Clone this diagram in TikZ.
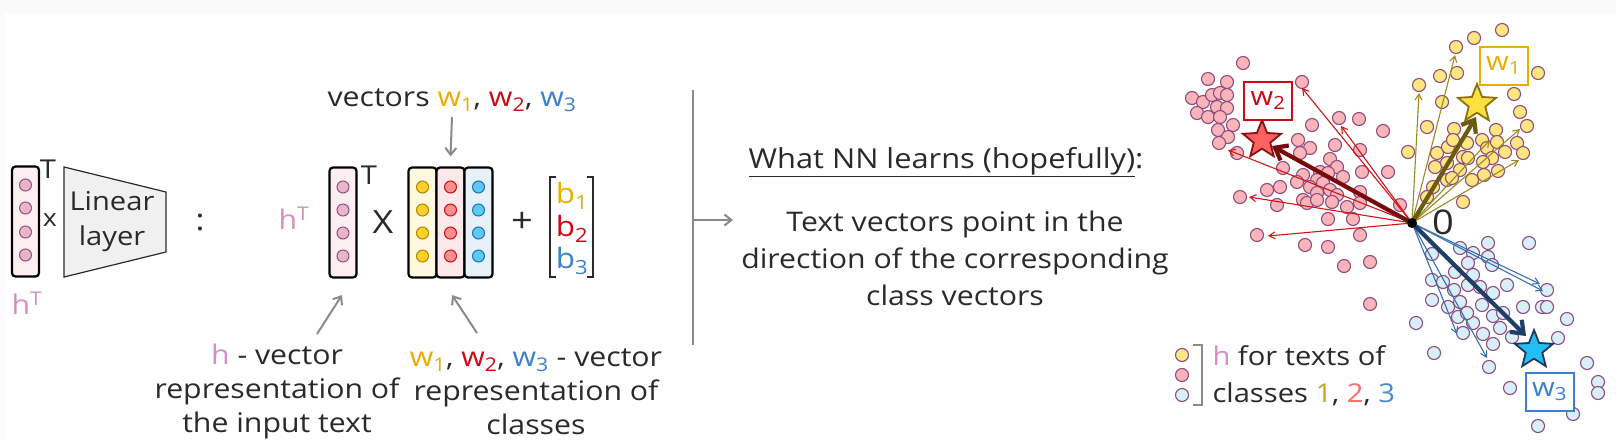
\documentclass[tikz,border=0pt]{standalone}
\usepackage{fontspec}
\setmainfont{Open Sans}[FakeStretch=1.12]
\usetikzlibrary{arrows.meta,shapes.geometric}
\definecolor{txt}{HTML}{2A2A2A}
\definecolor{hpink}{HTML}{D68FC4}
\definecolor{wy}{HTML}{E8AE00}
\definecolor{wr}{HTML}{CC0A14}
\definecolor{wb}{HTML}{3A80D0}
\definecolor{dotb}{HTML}{8E4B7E}
\definecolor{pinkf}{HTML}{FAB4BA}
\definecolor{yelf}{HTML}{FFE680}
\definecolor{bluef}{HTML}{D8EEF8}
\definecolor{hf}{HTML}{E9B6C9}
\definecolor{hb}{HTML}{9A4E80}
\definecolor{boxp}{HTML}{FCEFF2}
\definecolor{boxy}{HTML}{FEF8DF}
\definecolor{boxr}{HTML}{FDE8EA}
\definecolor{boxb}{HTML}{E6F1F8}
\definecolor{cyf}{HTML}{FFD02A}\definecolor{cyb}{HTML}{B08800}
\definecolor{crf}{HTML}{F89090}\definecolor{crb}{HTML}{D01010}
\definecolor{cbf}{HTML}{5BC8F5}\definecolor{cbb}{HTML}{2070B0}
\definecolor{arr}{HTML}{8A8A8A}
\definecolor{ared}{HTML}{D41414}
\definecolor{ayel}{HTML}{9A8A20}
\definecolor{ablu}{HTML}{3A70B0}
\definecolor{legy}{HTML}{C9A227}
\definecolor{legr}{HTML}{FF6B6B}
\definecolor{legb}{HTML}{4A8AD0}
\definecolor{s2f}{HTML}{FF6060}\definecolor{s2b}{HTML}{8B1010}
\definecolor{s1f}{HTML}{FFE040}\definecolor{s1b}{HTML}{8B7010}
\definecolor{s3f}{HTML}{22BFF5}\definecolor{s3b}{HTML}{1B3A60}
\definecolor{t2}{HTML}{7A0A0A}
\definecolor{t1}{HTML}{6B5A10}
\definecolor{t3}{HTML}{1F3F66}
\tikzset{
  vecbox/.style={draw=black, line width=2.2pt, rounded corners=3.5pt, minimum width=27pt, minimum height=110pt, inner sep=0pt},
  cdot/.style={circle, inner sep=0pt, minimum size=12pt, line width=1pt},
  sdot/.style={circle, inner sep=0pt, minimum size=13pt, line width=1.1pt, draw=dotb},
  garrow/.style={draw=arr, line width=2pt, -{Straight Barb[length=7pt,width=11pt]}},
  thin/.style={line width=1.1pt, -{Straight Barb[length=6pt,width=7pt]}},
  thick/.style={line width=4.2pt, -{Straight Barb[length=11pt,width=17pt]}},
  lbl/.style={font=\fontsize{27}{34}\selectfont, align=center, text=txt},
  wbox/.style={line width=2pt, fill=white, minimum width=48pt, minimum height=38pt, inner sep=0pt, font=\fontsize{26}{30}\selectfont},
  starn/.style={star, star points=5, star point ratio=2.3, minimum size=40pt, inner sep=0pt, line width=1.8pt},
}
\newcommand{\wsub}[2]{\textcolor{#1}{w\textsubscript{#2}}}
\begin{document}
\begin{tikzpicture}[x=1pt,y=-1pt]
\fill[black!2] (0,0) rectangle (1616,440);
\fill[white] (5,14) rectangle (1616,440);
\useasboundingbox (0,0) rectangle (1616,440);

% ---------- left: h^T x Linear layer ----------
\node[vecbox, fill=boxp] (hv1) at (25.5,221.5) {};
\foreach \y [count=\i] in {185,208,232,255}
  \node[cdot, fill=hf, draw=hb] (hv1c\i) at (25.5,\y) {};
\node[lbl, font=\fontsize{26}{30}\selectfont] (hv1T) at (48,169) {T};
\node[lbl, font=\fontsize{24}{30}\selectfont] (hv1x) at (50,220) {x};
\draw[fill=black!6, draw=txt, line width=1.2pt] (64,167) -- (166,192) -- (166,252) -- (64,277) -- cycle;
\node[lbl, font=\fontsize{26}{35}\selectfont] (lin) at (112,222) {Linear\\layer};
\node[lbl, font=\fontsize{30}{30}\selectfont] (colon) at (200,222) {:};
\node[lbl, text=hpink] (hv1lab) at (27,303) {h\textsuperscript{T}};

% ---------- middle: h^T X W + b ----------
\node[lbl, text=hpink] (hTlab) at (294,218) {h\textsuperscript{T}};
\node[vecbox, fill=boxp] (hv2) at (343,222.5) {};
\foreach \y [count=\i] in {187,210,233,256}
  \node[cdot, fill=hf, draw=hb] (hv2c\i) at (343,\y) {};
\node[lbl, font=\fontsize{26}{30}\selectfont] (hv2T) at (369,175) {T};
\node[lbl, font=\fontsize{32}{32}\selectfont] (times) at (383,222) {X};
\node[vecbox, fill=boxy, minimum width=28pt] (W1) at (422.5,222.5) {};
\node[vecbox, fill=boxr, minimum width=28pt] (W2) at (450.5,222.5) {};
\node[vecbox, fill=boxb, minimum width=28pt] (W3) at (478.5,222.5) {};
\foreach \y [count=\i] in {187,210,233,256}{
  \node[cdot, fill=cyf, draw=cyb] (W1c\i) at (422.5,\y) {};
  \node[cdot, fill=crf, draw=crb] (W2c\i) at (450.5,\y) {};
  \node[cdot, fill=cbf, draw=cbb] (W3c\i) at (478.5,\y) {};
}
\node[lbl, font=\fontsize{34}{34}\selectfont] (plus) at (522,222) {+};
\draw[line width=2pt, draw=txt] (556,177) -- (550,177) -- (550,277) -- (556,277);
\draw[line width=2pt, draw=txt] (587,177) -- (593,177) -- (593,277) -- (587,277);
\node[lbl, text=wy, font=\fontsize{28}{30}\selectfont] (b1) at (572,196) {b\textsubscript{1}};
\node[lbl, text=wr, font=\fontsize{28}{30}\selectfont] (b2) at (572,229) {b\textsubscript{2}};
\node[lbl, text=wb, font=\fontsize{28}{30}\selectfont] (b3) at (572,261) {b\textsubscript{3}};

\node[lbl] (vecs) at (452,100) {vectors \wsub{wy}{1}, \wsub{wr}{2}, \wsub{wb}{3}};
\draw[garrow] (452,117) -- ([yshift=10pt]W2.north);

\node[lbl] (hexp) at (277,391) {\textcolor{hpink}{h} - vector\\representation of\\the input text};
\node[lbl] (wexp) at (536,392) {\wsub{wy}{1}, \wsub{wr}{2}, \wsub{wb}{3} - vector\\representation of\\classes};
\coordinate (ha) at (317,334);
\coordinate (hb) at (342,295);
\draw[garrow] (ha) -- (hb);
\coordinate (wa) at (477,333);
\coordinate (wbb) at (452,295);
\draw[garrow] (wa) -- (wbb);

% ---------- divider and explanation ----------
\coordinate (dtop) at (693,90);
\coordinate (dbot) at (693,345);
\draw[draw=arr, line width=2pt] (dtop) -- (dbot);
\coordinate (dmid) at (693,220);
\coordinate (dend) at (733,220);
\draw[garrow] (dmid) -- (dend);
\node[lbl, font=\fontsize{27.5}{34}\selectfont] (title) at (946,162) {\underline{What NN learns (hopefully)}:};
\node[lbl, font=\fontsize{27}{37}\selectfont] (expl) at (955,258) {Text vectors point in the\\direction of the corresponding\\class vectors};

% ---------- scatter ----------
\coordinate (O) at (1412,223);
% pink (class 2)
\foreach \x/\y in {1243/63,1208/79,1227/82,1192/98,1203/102,1212/95,1220/93,1227/95,1217/107,1227/108,1197/113,1208/117,1220/117,1233/125,1218/130,1228/137,1219/143,1237/153,1302/82,1312/125,1339/118,1359/119,1383/131,1298/140,1310/148,1335/145,1360/150,1300/153,1330/159,1337/167,1283/168,1303/175,1320/172,1328/173,1343/177,1317/180,1323/183,1297/182,1310/187,1330/190,1362/172,1388/172,1267/190,1280/187,1317/193,1337/195,1360/192,1240/197,1277/205,1303/200,1307/203,1317/200,1332/202,1347/207,1360/203,1400/205,1328/219,1353/219,1257/235,1360/235,1305/245,1328/247,1344/266,1370/262,1370/304}
  \node[sdot, fill=pinkf] at (\x,\y) {};
% yellow (class 1)
\foreach \x/\y in {1502/30,1474/38,1456/47,1440/76,1457/73,1419/85,1442/102,1538/73,1514/94,1520/112,1527/126,1427/127,1454/129,1496/130,1408/152,1437/153,1448/147,1453/140,1467/143,1463/157,1468/158,1482/140,1487/148,1492/158,1497/142,1505/152,1517/143,1523/153,1435/167,1447/163,1460/170,1483/162,1498/171,1484/175,1472/180,1433/187,1447/180,1452/178,1427/197,1463/202}
  \node[sdot, fill=yelf] at (\x,\y) {};
% blue (class 3)
\foreach \x/\y in {1488/243,1529/243,1432/254,1460/248,1473/253,1488/257,1492/265,1468/263,1455/272,1473/275,1432/280,1443/282,1454/290,1468/285,1480/287,1493/293,1507/285,1547/290,1432/300,1448/307,1460/302,1482/305,1493/316,1503/313,1523/307,1542/307,1547/307,1416/323,1458/317,1473/323,1463/333,1483/334,1500/328,1512/337,1493/344,1567/319,1558/338,1434/353,1489/367,1587/363,1510/388,1598/382,1598/393,1573/414,1538/426,1467/313}
  \node[sdot, fill=bluef] at (\x,\y) {};

% thin arrows
\foreach \x/\y in {1302/88,1341/126,1228/150,1249/197,1268/236}
  \draw[thin, draw=ared] (O) -- (\x,\y);
\foreach \x/\y in {1419/93,1455/55,1520/129,1519/160,1490/140}
  \draw[thin, draw=ayel] (O) -- (\x,\y);
\foreach \x/\y in {1540/284,1543/291,1457/334,1487/358}
  \draw[thin, draw=ablu] (O) -- (\x,\y);

% stars, labels and thick arrows
\node[starn, fill=s2f, draw=s2b] (s2) at (1262,140) {};
\node[starn, fill=s1f, draw=s1b] (s1) at (1477,104) {};
\node[starn, fill=s3f, draw=s3b] (s3) at (1534,350) {};
\draw[thick, draw=t2] (O) -- (1272,146);
\draw[thick, draw=t1] (O) -- (1476,117);
\draw[thick, draw=t3] (O) -- (1526,336);
\fill[black] (O) circle[radius=5pt];
\node[lbl, font=\fontsize{34}{34}\selectfont] (zero) at (1443,222) {0};
\node[wbox, draw=wr, text=wr] (w2box) at (1268,100.5) {w\textsubscript{2}};
\node[wbox, draw=wy, text=wy] (w1box) at (1503.5,65.5) {w\textsubscript{1}};
\node[wbox, draw=wb, text=wb] (w3box) at (1549.5,391.5) {w\textsubscript{3}};

% legend
\node[sdot, fill=yelf] (l1) at (1182,355) {};
\node[sdot, fill=pinkf] (l2) at (1182,375) {};
\node[sdot, fill=bluef] (l3) at (1182,395) {};
\draw[draw=arr, line width=2pt] (1193,345) -- (1202,345) -- (1202,405) -- (1193,405);
\node[lbl, anchor=west, align=left, font=\fontsize{26}{37}\selectfont] (legt) at (1209,376) {\textcolor{hpink}{h} for texts of\\classes \textcolor{legy}{1}, \textcolor{legr}{2}, \textcolor{legb}{3}};
\end{tikzpicture}
\end{document}
